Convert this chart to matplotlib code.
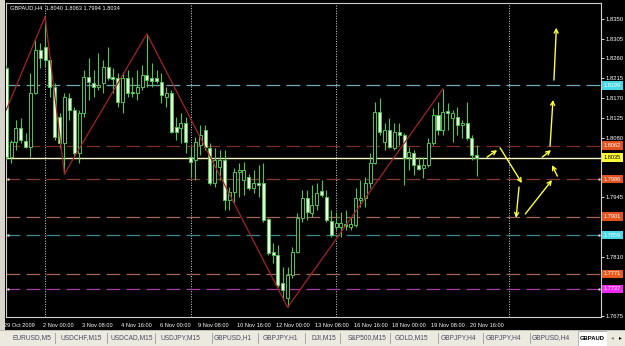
import matplotlib.pyplot as plt
import matplotlib.transforms as transforms
from matplotlib.patches import Rectangle
from matplotlib.lines import Line2D

plt.rcParams['font.family'] = ['Liberation Sans', 'DejaVu Sans']

# GBPAUD H4 candles, bar 0 = 29 Oct 2009 16:00
opens = [1.8239, 1.8036, 1.8070, 1.8102, 1.8073, 1.8059, 1.8182, 1.8280, 1.8286, 1.8257,
         1.8195, 1.8127, 1.8068, 1.8170, 1.8143, 1.8045, 1.8136, 1.8218, 1.8205, 1.8195,
         1.8205, 1.8241, 1.8218, 1.8216, 1.8161, 1.8216, 1.8184, 1.8182, 1.8195, 1.8223,
         1.8216, 1.8216, 1.8207, 1.8173, 1.8182, 1.8105, 1.8102, 1.8114, 1.8036, 1.8030,
         1.8064, 1.8098, 1.8057, 1.7977, 1.8014, 1.8030, 1.7939, 1.7957, 1.8002, 1.7984,
         1.7991, 1.7966, 1.7977, 1.7977, 1.7895, 1.7820, 1.7814, 1.7750, 1.7716, 1.7768,
         1.7820, 1.7898, 1.7943, 1.7909, 1.7927, 1.7959, 1.7946, 1.7891, 1.7877, 1.7877,
         1.7884, 1.7877, 1.7882, 1.7939, 1.7943, 1.7977, 1.8023, 1.8139, 1.8070, 1.8098,
         1.8057, 1.8093, 1.8086, 1.8036, 1.8045, 1.8018, 1.8011, 1.8018, 1.8068, 1.8132,
         1.8098, 1.8141, 1.8125, 1.8127, 1.8109, 1.8114, 1.8080, 1.8040]
highs = [1.8245, 1.8075, 1.8120, 1.8125, 1.8091, 1.8227, 1.8302, 1.8295, 1.8355, 1.8264,
         1.8205, 1.8136, 1.8182, 1.8182, 1.8150, 1.8143, 1.8234, 1.8261, 1.8234, 1.8273,
         1.8257, 1.8286, 1.8239, 1.8227, 1.8230, 1.8234, 1.8218, 1.8234, 1.8245, 1.8316,
         1.8250, 1.8234, 1.8227, 1.8195, 1.8189, 1.8127, 1.8136, 1.8127, 1.8059, 1.8082,
         1.8109, 1.8109, 1.8068, 1.8057, 1.8052, 1.8052, 1.7968, 1.8011, 1.8023, 1.8025,
         1.7998, 1.8007, 1.8018, 1.8023, 1.7898, 1.7841, 1.7836, 1.7786, 1.7786, 1.7832,
         1.7909, 1.7961, 1.7961, 1.7973, 1.7977, 1.7984, 1.7961, 1.7916, 1.7911, 1.7911,
         1.7916, 1.7900, 1.7966, 1.7984, 1.7991, 1.8045, 1.8161, 1.8170, 1.8114, 1.8125,
         1.8114, 1.8114, 1.8091, 1.8059, 1.8052, 1.8036, 1.8036, 1.8080, 1.8148, 1.8161,
         1.8191, 1.8159, 1.8143, 1.8150, 1.8120, 1.8161, 1.8086, 1.8063]
lows = [1.8030, 1.8023, 1.8052, 1.8068, 1.8057, 1.8036, 1.8180, 1.8239, 1.8241, 1.8173,
        1.8075, 1.8057, 1.7998, 1.8120, 1.8036, 1.8023, 1.8127, 1.8166, 1.8173, 1.8189,
        1.8182, 1.8211, 1.8182, 1.8150, 1.8136, 1.8173, 1.8173, 1.8166, 1.8189, 1.8195,
        1.8195, 1.8205, 1.8159, 1.8150, 1.8091, 1.8075, 1.8068, 1.8045, 1.7991, 1.7984,
        1.8041, 1.8052, 1.7973, 1.7968, 1.7984, 1.7916, 1.7916, 1.7934, 1.7946, 1.7950,
        1.7961, 1.7955, 1.7946, 1.7889, 1.7814, 1.7795, 1.7741, 1.7711, 1.7695, 1.7761,
        1.7818, 1.7889, 1.7893, 1.7900, 1.7916, 1.7946, 1.7889, 1.7855, 1.7870, 1.7855,
        1.7870, 1.7870, 1.7877, 1.7923, 1.7923, 1.7966, 1.8021, 1.8086, 1.8052, 1.8057,
        1.8052, 1.8064, 1.7973, 1.8007, 1.7995, 1.8007, 1.7989, 1.8014, 1.8064, 1.8086,
        1.8086, 1.8098, 1.8070, 1.8086, 1.8080, 1.8075, 1.8030, 1.7994]
closes = [1.8036, 1.8070, 1.8102, 1.8075, 1.8059, 1.8182, 1.8280, 1.8261, 1.8257, 1.8195,
          1.8082, 1.8068, 1.8173, 1.8143, 1.8045, 1.8136, 1.8218, 1.8207, 1.8195, 1.8200,
          1.8241, 1.8216, 1.8214, 1.8161, 1.8216, 1.8182, 1.8182, 1.8195, 1.8223, 1.8211,
          1.8209, 1.8209, 1.8177, 1.8182, 1.8093, 1.8093, 1.8114, 1.8070, 1.8025, 1.8070,
          1.8086, 1.8059, 1.7977, 1.8030, 1.8030, 1.7939, 1.7957, 1.8002, 1.8007, 1.8007,
          1.7966, 1.7977, 1.7973, 1.7893, 1.7818, 1.7814, 1.7745, 1.7734, 1.7768, 1.7820,
          1.7898, 1.7943, 1.7911, 1.7927, 1.7955, 1.7950, 1.7893, 1.7859, 1.7886, 1.7886,
          1.7880, 1.7884, 1.7943, 1.7943, 1.7977, 1.8023, 1.8139, 1.8093, 1.8098, 1.8059,
          1.8093, 1.8086, 1.8034, 1.8048, 1.8018, 1.8009, 1.8018, 1.8068, 1.8132, 1.8098,
          1.8139, 1.8136, 1.8136, 1.8109, 1.8114, 1.8080, 1.8041, 1.8034]

# zigzag turning points (bar index, price)
zz_idx = [0, 8, 12, 29, 58, 90]
zz_val = [1.8143, 1.8355, 1.7998, 1.8316, 1.7695, 1.8191]

# horizontal levels
level_vals = [1.8199, 1.8062, 1.8035, 1.7986, 1.7901, 1.7859, 1.7771, 1.7737]
level_line = ['#6fa9b4', '#7e2c2a', '#f4f4c4', '#8a3a30', '#a4645c', '#3a8a90', '#a4645c', '#a43aa4']
level_box = ['#48d8e8', '#e2521e', '#ffff33', '#e2521e', '#e2521e', '#48d8e8', '#ea5a1e', '#f028f0']
level_txt = ['white', 'white', 'black', 'white', 'white', 'white', 'white', 'white']
level_mark = [False, False, False, True, False, True, False, True]

# week separators (bar index)
sep_idx = [8, 38, 68, 103.7]

# time axis labels
time_idx = [0, 8, 16, 24, 32, 40, 48, 56, 64, 72, 80, 88, 96]
time_lbl = ['29 Oct 2009', '2 Nov 00:00', '3 Nov 08:00', '4 Nov 16:00', '6 Nov 00:00',
            '9 Nov 08:00', '10 Nov 16:00', '12 Nov 00:00', '13 Nov 08:00', '16 Nov 16:00',
            '18 Nov 00:00', '19 Nov 08:00', '20 Nov 16:00']

# price scale labels
price_ticks = [1.8350, 1.8305, 1.8260, 1.8215, 1.8170, 1.8125, 1.8080, 1.7945, 1.7810, 1.7675]

# hand drawn yellow arrows (start bar, start price, end bar, end price)
arr_x0 = [99.1, 101.8, 105.7, 107.0, 113.6, 110.5, 112.1, 112.9]
arr_y0 = [1.8036, 1.8057, 1.7968, 1.7907, 1.7993, 1.8036, 1.8061, 1.8211]
arr_x1 = [101.2, 106.3, 105.1, 112.5, 112.5, 112.3, 112.7, 113.4]
arr_y1 = [1.8052, 1.7977, 1.7898, 1.7984, 1.8018, 1.8052, 1.8166, 1.8330]

# tabs at the bottom
tab_names = ['EURUSD,M5', 'USDCHF,M15', 'USDCAD,M15', 'USDJPY,M15', 'GBPUSD,H1', 'GBPJPY,H1',
             'DJI,M15', 'S&P500,M15', 'GOLD,M15', 'GBPJPY,H4', 'GBPJPY,H4', 'GBPUSD,H4']
tab_x = [32, 81, 132, 180, 233, 280, 324, 367, 411, 458, 503, 551]
tab_sep = [55, 107, 155, 212, 258, 305, 340, 390, 438, 483, 530]

W, H = 625, 346
fig = plt.figure(figsize=(W / 100, H / 100), dpi=100, facecolor='black')
ax = fig.add_axes([6 / W, 1 - 317 / H, 595 / W, 314 / H])
ax.set_facecolor('black')

green = '#52c452'
for i in range(len(opens)):
    o, h, l, c = opens[i], highs[i], lows[i], closes[i]
    ax.vlines(i, l, h, color=green, lw=0.8, zorder=3)
    face = 'black' if c >= o else '#ecffe2'  # up bar hollow, down bar white
    ax.bar(i, max(abs(c - o), 0.00005), bottom=min(o, c), width=0.62, color=face,
           edgecolor=green, linewidth=0.7, zorder=4)

# zigzag
ax.plot(zz_idx, zz_val, color='#a52222', lw=0.9, zorder=5)

# levels with price boxes on the scale
bt = transforms.blended_transform_factory(ax.transAxes, ax.transData)
for v, lc, bc, tc, mk in zip(level_vals, level_line, level_box, level_txt, level_mark):
    if v == 1.8035:
        ax.axhline(v, color=lc, lw=1.0, zorder=2)
    else:
        ax.axhline(v, color=lc, lw=0.9, dashes=(11, 5), zorder=2)
    ax.text(1.005, v, f'{v:.4f}', transform=bt, ha='left', va='center', fontsize=4.1,
            color=tc, clip_on=False, zorder=8,
            bbox=dict(boxstyle='square,pad=0.3', facecolor=bc, edgecolor='none'))
    if mk:
        ax.plot([0.004, 0.997], [v, v], 's', ms=1.8, color='#f4e8e0', mec='none',
                transform=bt, clip_on=False, zorder=6)

# week separators
for s in sep_idx:
    ax.axvline(s, color='#d8d8d8', lw=0.7, ls=(0, (1, 1.6)), zorder=1)

# yellow arrows
for x0, y0, x1, y1 in zip(arr_x0, arr_y0, arr_x1, arr_y1):
    ax.annotate('', xy=(x1, y1), xytext=(x0, y0),
                arrowprops=dict(arrowstyle='->', color='#ffff3a', lw=1.0,
                                shrinkA=0, shrinkB=0, mutation_scale=7), zorder=7)

ax.set_xlim(-0.05, 122.6)
ax.set_ylim(1.7673, 1.8386)
ax.set_xticks([])
ax.yaxis.tick_right()
ax.set_yticks(price_ticks)
ax.set_yticklabels([f'{p:.4f}' for p in price_ticks])
ax.tick_params(axis='y', colors='white', labelsize=4.2, length=2, width=0.6, pad=1.5)
for sp in ax.spines.values():
    sp.set_color('#cfcfcf')
    sp.set_linewidth(0.8)

# title with OHLC
ax.text(0.006, 0.993, 'GBPAUD,H4  1.8040 1.8063 1.7994 1.8034', transform=ax.transAxes,
        ha='left', va='top', fontsize=4.1, color='white')

# time labels
tt = transforms.blended_transform_factory(ax.transData, ax.transAxes)
for t, lb in zip(time_idx, time_lbl):
    ax.text(t - 0.4, -0.026, lb, transform=tt, ha='left', va='center', fontsize=4.1,
            color='white', clip_on=False)

# window chrome: left strip and tab bar
fig.add_artist(Rectangle((0, 0), 5 / W, 1, transform=fig.transFigure, facecolor='#d6d3cb',
                         edgecolor='none', zorder=0))
fig.add_artist(Rectangle((0, 0), 1, 16 / H, transform=fig.transFigure, facecolor='#ece9df',
                         edgecolor='none', zorder=1))
fig.add_artist(Line2D([0, 1], [16 / H, 16 / H], color='#b8b4a8', lw=0.6))
for tx, name in zip(tab_x, tab_names):
    fig.text(tx / W, 8 / H, name, ha='center', va='center', fontsize=4.8, color='#4a4a62')
for sx in tab_sep:
    fig.add_artist(Line2D([sx / W, sx / W], [3 / H, 13 / H], color='#9a9a9a', lw=0.6))
fig.add_artist(Rectangle((578 / W, 0), 30 / W, 15 / H, transform=fig.transFigure,
                         facecolor='white', edgecolor='#9a9a9a', lw=0.5, zorder=2))
fig.text(580 / W, 8 / H, 'GBPAUD', ha='left', va='center', fontsize=4.2,
         color='black', weight='bold', zorder=3)
fig.add_artist(Rectangle((607 / W, 0), 18 / W, 15 / H, transform=fig.transFigure,
                         facecolor='#ece9df', edgecolor='none', zorder=10))
fig.text(612 / W, 8 / H, '\u25c2', ha='center', va='center', fontsize=4, color='#808080', zorder=11)
fig.text(620 / W, 8 / H, '\u25b8', ha='center', va='center', fontsize=4, color='black', zorder=11)

fig.savefig('out.png', dpi=100, facecolor='black')
